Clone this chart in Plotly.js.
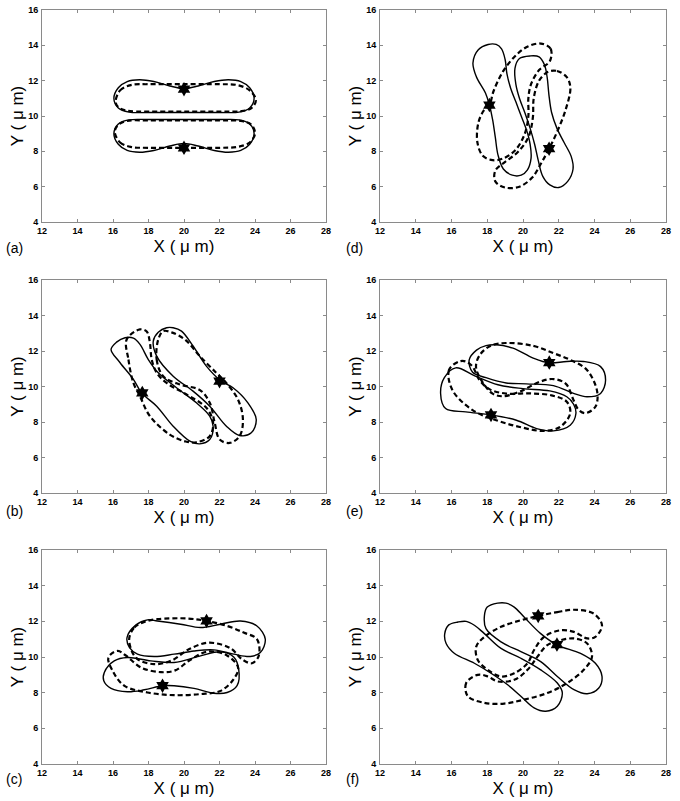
<!DOCTYPE html>
<html>
<head>
<meta charset="utf-8">
<script src="https://cdn.plot.ly/plotly-3.0.1.min.js"></script>
<style>html,body{margin:0;padding:0;background:#fff;}#chart{width:680px;height:801px;}</style>
</head>
<body>
<div id="chart"></div>
<script>
// ---------- data (x, y in micrometres) ----------
const xTicks = [12, 14, 16, 18, 20, 22, 24, 26, 28];
const yTicks = [4, 6, 8, 10, 12, 14, 16];
const panelLabels = ["(a)", "(d)", "(b)", "(e)", "(c)", "(f)"];

// Panel (a)
const aSolid1 = [[16.05,11.0],[16.3,11.6],[16.8,11.95],[17.5,12.05],[18.3,11.95],[19.2,11.7],[20,11.55],[20.8,11.7],[21.7,11.95],[22.5,12.05],[23.2,11.95],[23.7,11.6],[23.95,11.0],[23.7,10.45],[23.1,10.22],[22,10.2],[20,10.2],[18,10.2],[16.9,10.22],[16.3,10.45]];
const aSolid2 = [[16.05,9.0],[16.3,8.4],[16.8,8.05],[17.5,7.95],[18.3,8.05],[19.2,8.3],[20,8.45],[20.8,8.3],[21.7,8.05],[22.5,7.95],[23.2,8.05],[23.7,8.4],[23.95,9.0],[23.7,9.55],[23.1,9.78],[22,9.8],[20,9.8],[18,9.8],[16.9,9.78],[16.3,9.55]];
const aDash1 = [[16.15,10.8],[16.4,11.45],[17.0,11.75],[18,11.8],[20,11.8],[22,11.8],[23,11.75],[23.7,11.45],[24.05,10.9],[23.8,10.45],[23.2,10.27],[22,10.25],[20,10.25],[18,10.25],[16.8,10.3],[16.3,10.5]];
const aDash2 = [[16.1,9.1],[16.4,8.5],[17.0,8.25],[18,8.2],[20,8.2],[22,8.2],[23,8.25],[23.7,8.5],[24.0,9.0],[23.8,9.5],[23.2,9.72],[22,9.75],[20,9.75],[18,9.75],[16.8,9.72],[16.3,9.5]];
const aStarX = [20.0, 20.0];
const aStarY = [11.52, 8.2];

// Panel (b)
const bSolid1 = [[15.89,12.09],[16.4,11.34],[17.15,10.4],[17.61,9.64],[18.46,8.89],[19.39,7.76],[20.33,6.92],[20.89,6.77],[21.45,7.01],[21.64,7.76],[21.45,8.33],[20.7,9.08],[19.58,9.93],[18.55,10.77],[17.99,11.52],[17.52,12.37],[17.15,12.72],[16.68,12.75],[16.2,12.5]];
const bSolid2 = [[18.27,12.56],[18.46,11.71],[19.39,10.58],[20.51,9.74],[21.45,8.89],[22.39,7.76],[23.13,7.24],[23.79,7.39],[24.07,8.14],[23.6,9.08],[22.76,9.93],[22.1,10.3],[21.26,11.15],[20.51,12.28],[19.86,13.12],[19.39,13.31],[19.02,13.31],[18.55,13.05]];
const bDash1 = [[16.77,12.65],[16.87,11.52],[17.15,10.2],[17.52,9.45],[18.08,8.33],[19.2,7.29],[20.1,6.9],[20.7,6.86],[21.45,7.2],[21.64,7.95],[21.26,8.8],[20.14,9.55],[19.02,10.2],[18.46,10.77],[18.18,11.52],[18.08,12.46],[17.9,13.1],[17.52,13.22]];
const bDash2 = [[18.55,12.65],[18.46,11.52],[18.83,10.58],[19.77,10.11],[20.9,9.8],[21.45,9.08],[21.73,7.95],[22.01,7.01],[22.57,6.82],[23.13,7.2],[23.32,8.14],[23.04,9.27],[22.3,10.3],[21.82,10.77],[20.89,11.71],[20.05,12.65],[19.3,13.05],[18.83,13.12]];
const bStarX = [17.65, 22.0];
const bStarY = [9.64, 10.3];

// Panel (c)
const cSolid1 = [[16.79,11.09],[17.3,11.8],[17.94,12.08],[18.5,12.02],[19.81,11.84],[20.93,11.65],[22.06,11.84],[23.18,12.02],[24.11,11.74],[24.58,11.0],[24.3,10.25],[23.74,10.03],[22.8,10.16],[21.68,10.4],[20.56,10.34],[19.44,10.16],[18.32,10.03],[17.38,10.16],[16.93,10.53]];
const cSolid2 = [[15.51,9.13],[16.07,9.78],[16.82,9.97],[18.13,9.78],[19.44,9.69],[20.93,10.06],[22.06,10.29],[22.8,10.0],[23.08,9.32],[22.99,8.39],[22.43,8.01],[21.68,7.97],[20.56,8.24],[19.44,8.39],[18.79,8.39],[17.76,8.16],[16.82,8.05],[15.89,8.24],[15.48,8.67]];
const cDash1 = [[16.91,11.0],[17.2,11.65],[17.76,11.97],[18.5,12.12],[20.19,12.16],[21.27,12.02],[22.43,11.74],[23.36,11.37],[24.11,11.0],[24.21,10.06],[23.83,9.65],[23.3,9.85],[22.6,10.5],[21.4,10.8],[20.3,10.45],[19.3,9.8],[18.3,9.6],[17.3,9.95]];
const cDash2 = [[16.26,10.34],[15.74,9.97],[15.98,9.22],[16.63,8.39],[17.94,8.01],[19.44,7.86],[20.93,7.92],[22.06,8.1],[22.8,8.76],[23.05,9.4],[22.4,10.1],[21.3,10.3],[20.3,9.8],[19.5,9.25],[18.7,9.15],[17.6,9.4],[16.7,10.1]];
const cStarX = [21.27, 18.79];
const cStarY = [12.02, 8.39];

// Panel (d)
const dSolid1 = [[18.05,14.05],[17.5,13.75],[17.2,13.0],[17.4,12.2],[17.9,11.3],[18.12,10.62],[18.3,9.8],[18.45,8.8],[18.6,7.8],[18.9,7.0],[19.4,6.65],[19.9,6.65],[20.25,6.95],[20.45,7.6],[20.4,8.4],[20.2,9.2],[19.9,10.0],[19.6,10.8],[19.3,11.6],[19.1,12.4],[19.0,13.2],[18.8,13.8],[18.5,14.05]];
const dSolid2 = [[20.4,13.4],[19.8,13.25],[19.55,12.7],[19.6,11.8],[19.8,11.0],[20.1,10.2],[20.4,9.3],[20.65,8.4],[20.85,7.5],[21.1,6.6],[21.5,6.1],[22.0,5.95],[22.5,6.3],[22.8,7.0],[22.7,7.7],[22.3,8.5],[21.9,9.3],[21.6,10.2],[21.45,11.2],[21.35,12.2],[21.2,12.9],[20.9,13.35]];
const dDash1 = [[21.0,14.1],[21.55,13.8],[21.5,13.1],[20.9,12.6],[20.45,11.8],[20.3,11.0],[20.3,10.0],[20.1,9.0],[19.6,8.1],[18.9,7.6],[18.3,7.5],[17.75,7.75],[17.45,8.5],[17.5,9.6],[17.8,10.3],[18.12,10.62],[18.35,11.4],[18.9,12.55],[19.65,13.48],[20.3,13.95]];
const dDash2 = [[21.4,12.5],[21.9,12.55],[22.45,12.2],[22.65,11.6],[22.4,10.4],[21.95,9.2],[21.46,8.15],[21.0,7.3],[20.5,6.5],[19.8,6.0],[19.0,5.95],[18.45,6.3],[18.45,6.9],[19.0,7.4],[19.7,7.95],[20.3,8.8],[20.55,9.9],[20.6,11.0],[20.9,12.0]];
const dStarX = [18.12, 21.46];
const dStarY = [10.62, 8.15];

// Panel (e)
const eSolid1 = [[16.99,11.5],[17.4,12.05],[17.93,12.3],[18.5,12.35],[19.44,12.16],[20.57,11.6],[21.47,11.33],[22.45,11.41],[23.39,11.41],[24.34,11.12],[24.62,10.37],[24.34,9.61],[23.58,9.42],[22.83,9.61],[21.7,10.05],[20.19,10.15],[19.06,10.2],[17.93,10.5],[17.18,10.8]];
const eSolid2 = [[16.24,11.05],[15.6,10.5],[15.39,9.61],[15.67,8.76],[16.8,8.57],[18.21,8.4],[19.63,8.1],[20.76,7.63],[21.7,7.5],[22.64,7.82],[22.96,8.48],[22.83,9.0],[22.45,9.42],[21.5,9.75],[20.0,9.88],[18.6,10.1],[17.3,10.6]];
const eDash1 = [[19.06,12.45],[18.2,12.3],[17.6,11.8],[17.37,11.12],[17.7,10.3],[18.3,9.6],[18.87,9.45],[19.82,9.71],[20.95,10.27],[21.7,10.42],[22.4,10.15],[22.8,9.3],[23.1,8.7],[23.49,8.5],[24.05,8.86],[24.15,9.71],[23.58,10.93],[22.64,11.5],[21.7,11.88],[20.57,12.29]];
const eDash2 = [[16.43,11.41],[15.86,10.93],[16.05,9.8],[17.18,8.67],[18.5,8.1],[19.82,7.72],[21.13,7.5],[22.07,7.72],[22.64,8.48],[22.45,9.14],[21.6,9.5],[20.38,9.61],[19.06,9.6],[18.12,9.85],[17.56,10.37],[17.18,11.12],[16.8,11.41]];
const eStarX = [21.47, 18.21];
const eStarY = [11.35, 8.4];

// Panel (f)
const fSolid1 = [[16.36,11.96],[15.85,11.8],[15.62,11.3],[15.7,10.76],[16.17,10.2],[17.28,9.65],[18.21,9.09],[19.14,8.44],[19.88,7.8],[20.62,7.15],[21.27,6.96],[21.92,7.24],[22.2,7.98],[21.92,8.54],[20.99,9.28],[19.88,9.93],[18.77,10.48],[17.84,11.31],[17.28,11.78],[16.82,12.0]];
const fSolid2 = [[18.58,13.02],[18.0,12.8],[17.84,12.3],[17.93,11.59],[18.77,10.85],[19.88,10.3],[20.99,9.74],[21.92,8.91],[22.85,8.17],[23.59,7.94],[24.24,8.26],[24.42,8.91],[24.05,9.65],[23.22,10.2],[21.92,10.67],[20.99,11.31],[20.06,12.24],[19.51,12.8],[19.05,13.02]];
const fDash1 = [[20.84,12.3],[21.92,12.52],[22.85,12.65],[23.96,12.43],[24.42,11.78],[24.05,11.13],[23.59,11.04],[22.85,11.41],[22.1,11.5],[21.18,11.13],[20.62,10.39],[20.25,9.65],[19.51,9.09],[18.77,8.91],[18.03,9.28],[17.47,9.83],[17.38,10.57],[17.84,11.13],[18.77,11.69],[19.88,12.06]];
const fDash2 = [[17.47,9.0],[16.82,8.54],[16.91,7.8],[17.84,7.43],[18.95,7.39],[20.06,7.61],[21.36,7.98],[22.47,8.54],[23.4,9.28],[23.86,10.02],[23.59,10.76],[22.85,11.04],[22.1,10.94],[21.36,10.67],[20.81,10.02],[20.25,9.28],[19.51,8.72],[18.58,8.63],[18.03,8.91]];
const fStarX = [20.85, 21.9];
const fStarY = [12.3, 10.7];

// ---------- build ----------
const panels = [
  {solid:[aSolid1,aSolid2], dash:[aDash1,aDash2], sx:aStarX, sy:aStarY},
  {solid:[dSolid1,dSolid2], dash:[dDash1,dDash2], sx:dStarX, sy:dStarY},
  {solid:[bSolid1,bSolid2], dash:[bDash1,bDash2], sx:bStarX, sy:bStarY},
  {solid:[eSolid1,eSolid2], dash:[eDash1,eDash2], sx:eStarX, sy:eStarY},
  {solid:[cSolid1,cSolid2], dash:[cDash1,cDash2], sx:cStarX, sy:cStarY},
  {solid:[fSolid1,fSolid2], dash:[fDash1,fDash2], sx:fStarX, sy:fStarY}
];

const colDom = [[42/680, 326/680], [380/680, 666/680]];
const rowDom = [[1-222/801, 1-10/801], [1-493/801, 1-280/801], [1-764/801, 1-550/801]];

function closed(pts) {
  const x = pts.map(p => p[0]); const y = pts.map(p => p[1]);
  x.push(pts[0][0]); y.push(pts[0][1]);
  return {x, y};
}

const traces = [];
const layout = {
  width: 680, height: 801,
  margin: {l:0, r:0, t:0, b:0},
  paper_bgcolor: '#fff', plot_bgcolor: '#fff',
  showlegend: false,
  font: {family: 'Liberation Sans, Arial, sans-serif', color: '#000'},
  annotations: []
};

panels.forEach((p, i) => {
  const n = i + 1;
  const xa = 'x' + (n === 1 ? '' : n), ya = 'y' + (n === 1 ? '' : n);
  p.dash.forEach(c => {
    const d = closed(c);
    traces.push({x: d.x, y: d.y, xaxis: xa, yaxis: ya, mode: 'lines', type: 'scatter',
      line: {color: '#000', width: 2.2, dash: '5px,3px', shape: 'spline', smoothing: 1}, hoverinfo: 'skip'});
  });
  p.solid.forEach(c => {
    const d = closed(c);
    traces.push({x: d.x, y: d.y, xaxis: xa, yaxis: ya, mode: 'lines', type: 'scatter',
      line: {color: '#000', width: 1.4, shape: 'spline', smoothing: 1}, hoverinfo: 'skip'});
  });
  traces.push({x: p.sx, y: p.sy, xaxis: xa, yaxis: ya, mode: 'markers', type: 'scatter',
    marker: {symbol: 'hexagram', size: 11, color: '#000', line: {width: 0}}, hoverinfo: 'skip'});

  const col = i % 2, row = Math.floor(i / 2);
  const axCommon = {
    showgrid: false, zeroline: false, showline: true, mirror: 'ticks',
    linecolor: '#8a8a8a', linewidth: 1, ticks: 'inside', ticklen: 3, tickcolor: '#8a8a8a',
    tickfont: {family: 'Liberation Sans, Arial, sans-serif', size: 9, weight: 'bold', color: '#000'},
    fixedrange: true
  };
  layout['xaxis' + (n === 1 ? '' : n)] = Object.assign({}, axCommon, {
    domain: colDom[col], range: [12, 28], tickvals: xTicks, ticktext: xTicks.map(String),
    anchor: ya,
    title: {text: 'X ( μ m)', font: {size: 17, family: 'Liberation Sans, Arial, sans-serif'}, standoff: 5}
  });
  layout['yaxis' + (n === 1 ? '' : n)] = Object.assign({}, axCommon, {
    domain: rowDom[row], range: [4, 16], tickvals: yTicks, ticktext: yTicks.map(String),
    anchor: xa, ticklabelstandoff: 1,
    title: {text: 'Y ( μ m)', font: {size: 17, family: 'Liberation Sans, Arial, sans-serif'}, standoff: 0}
  });
  layout.annotations.push({
    text: panelLabels[i], xref: 'paper', yref: 'paper',
    x: (col === 0 ? 4 : 344) / 680, y: 1 - ([248, 511, 779][row]) / 801,
    xanchor: 'left', yanchor: 'middle', showarrow: false,
    font: {size: 14, family: 'Liberation Sans, Arial, sans-serif', color: '#000'}
  });
});

Plotly.newPlot('chart', traces, layout, {staticPlot: true, displayModeBar: false});
</script>
</body>
</html>
